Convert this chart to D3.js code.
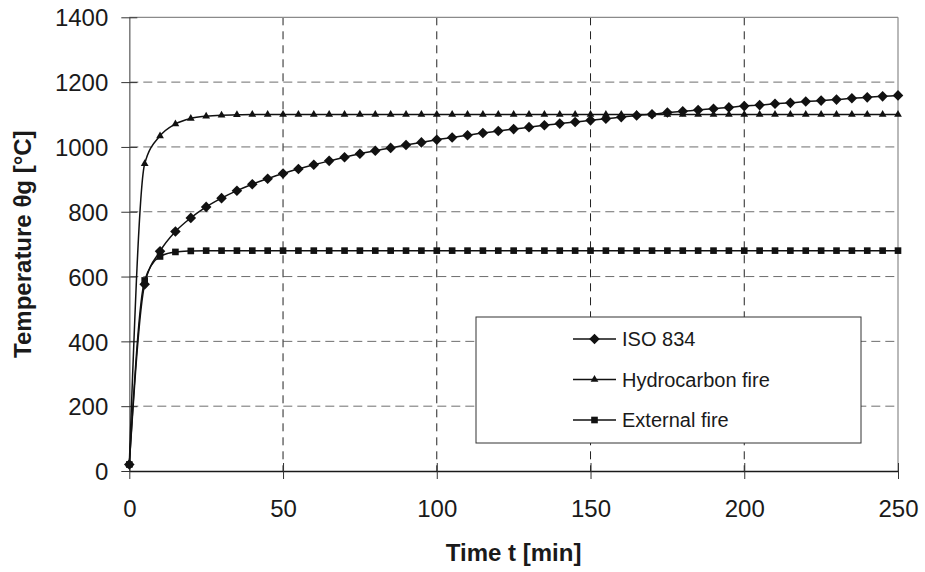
<!DOCTYPE html>
<html>
<head>
<meta charset="utf-8">
<script src="https://cdn.jsdelivr.net/npm/d3@7"></script>
<style>
  html, body { margin: 0; padding: 0; background: #fff; }
  svg text { font-family: "Liberation Sans", Arial, sans-serif; fill: #1a1a1a; }
</style>
</head>
<body>
<div id="fire-chart"></div>
<script>
// time axis samples [min]
const timeMin = [0, 5, 10, 15, 20, 25, 30, 35, 40, 45, 50, 55, 60, 65, 70, 75, 80, 85, 90, 95,
  100, 105, 110, 115, 120, 125, 130, 135, 140, 145, 150, 155, 160, 165, 170, 175, 180, 185, 190, 195,
  200, 205, 210, 215, 220, 225, 230, 235, 240, 245, 250];

// gas temperatures [°C]
const iso834 = [20, 576, 678, 739, 781, 815, 842, 865, 885, 902, 918, 932, 945, 957, 968, 979, 988, 997, 1006, 1014,
  1022, 1029, 1036, 1043, 1049, 1055, 1061, 1067, 1072, 1077, 1082, 1087, 1092, 1097, 1101, 1106, 1110, 1114, 1118, 1122,
  1126, 1129, 1133, 1136, 1140, 1143, 1146, 1150, 1153, 1156, 1159];
const hydrocarbon = [20, 948, 1034, 1071, 1088, 1095, 1098, 1099, 1100, 1100, 1100, 1100, 1100, 1100, 1100, 1100, 1100, 1100, 1100, 1100,
  1100, 1100, 1100, 1100, 1100, 1100, 1100, 1100, 1100, 1100, 1100, 1100, 1100, 1100, 1100, 1100, 1100, 1100, 1100, 1100,
  1100, 1100, 1100, 1100, 1100, 1100, 1100, 1100, 1100, 1100, 1100];
const externalFire = [20, 588, 662, 676, 679, 680, 680, 680, 680, 680, 680, 680, 680, 680, 680, 680, 680, 680, 680, 680,
  680, 680, 680, 680, 680, 680, 680, 680, 680, 680, 680, 680, 680, 680, 680, 680, 680, 680, 680, 680,
  680, 680, 680, 680, 680, 680, 680, 680, 680, 680, 680];

const seriesNames = ["ISO 834", "Hydrocarbon fire", "External fire"];
const xTicks = [0, 50, 100, 150, 200, 250];
const yTicks = [0, 200, 400, 600, 800, 1000, 1200, 1400];

const width = 925, height = 572;
const margin = {top: 17.3, right: 27, bottom: 101, left: 129.3};

const svg = d3.select('#fire-chart').append('svg')
  .attr('width', width)
  .attr('height', height);

const x = d3.scaleLinear().domain([0, 250]).range([margin.left, width - margin.right]);
const y = d3.scaleLinear().domain([0, 1400]).range([height - margin.bottom, margin.top]);

const x0 = x.range()[0], x1 = x.range()[1];
const y0 = y.range()[0], y1 = y.range()[1];

// dashed grid
svg.append('g').selectAll('line')
  .data(yTicks.filter(v => v > 0 && v < 1400))
  .enter().append('line')
  .attr('x1', x0).attr('x2', x1)
  .attr('y1', d => y(d)).attr('y2', d => y(d))
  .attr('stroke', '#6e6e6e').attr('stroke-width', 1)
  .attr('stroke-dasharray', '9,5');
svg.append('g').selectAll('line')
  .data(xTicks.filter(v => v > 0 && v < 250))
  .enter().append('line')
  .attr('x1', d => x(d)).attr('x2', d => x(d))
  .attr('y1', y1).attr('y2', y0)
  .attr('stroke', '#222').attr('stroke-width', 1)
  .attr('stroke-dasharray', '8,6');

// plot frame: top and right grey, left grey axis
svg.append('line').attr('x1', x0).attr('x2', x1).attr('y1', y1).attr('y2', y1)
  .attr('stroke', '#8a8a8a').attr('stroke-width', 1.2);
svg.append('line').attr('x1', x1).attr('x2', x1).attr('y1', y1).attr('y2', y0)
  .attr('stroke', '#8a8a8a').attr('stroke-width', 1.2);

// axes with crossing ticks
const yAxis = d3.axisLeft(y).tickValues(yTicks).tickFormat(d3.format('d'))
  .tickSizeInner(8).tickSizeOuter(0);
const gy = svg.append('g').attr('transform', 'translate(' + x0 + ',0)').call(yAxis);
gy.select('.domain').attr('stroke', '#7a7a7a').attr('stroke-width', 1.5);
gy.selectAll('.tick line').attr('stroke', '#333').attr('x2', -8).attr('x1', 8);
gy.selectAll('.tick text').attr('font-size', 24).attr('dy', '0.36em').attr('x', -21);

const xAxis = d3.axisBottom(x).tickValues(xTicks).tickFormat(d3.format('d'))
  .tickSizeInner(8).tickSizeOuter(0);
const gx = svg.append('g').attr('transform', 'translate(0,' + y0 + ')').call(xAxis);
gx.select('.domain').attr('stroke', '#1a1a1a').attr('stroke-width', 1.5);
gx.selectAll('.tick line').attr('stroke', '#333').attr('y1', -8).attr('y2', 8);
gx.selectAll('.tick text').attr('font-size', 24).attr('dy', null).attr('y', 46);
svg.selectAll('.tick text').attr('fill', '#1a1a1a').attr('font-family', '"Liberation Sans", Arial, sans-serif');

// axis titles
svg.append('text')
  .attr('x', (x0 + x1) / 2).attr('y', 561)
  .attr('text-anchor', 'middle')
  .attr('font-size', 24).attr('font-weight', 'bold')
  .text('Time t [min]');
svg.append('text')
  .attr('transform', 'translate(31,' + ((y0 + y1) / 2) + ') rotate(-90)')
  .attr('text-anchor', 'middle')
  .attr('font-size', 24).attr('font-weight', 'bold')
  .text('Temperature θg [°C]');

// series
const diamond = d3.symbol().type(d3.symbolSquare).size(56);
const triangle = d3.symbol().type(d3.symbolTriangle).size(26);
const square = d3.symbol().type(d3.symbolSquare).size(44);
const series = [
  {name: seriesNames[0], values: iso834, shape: diamond, rot: 45},
  {name: seriesNames[1], values: hydrocarbon, shape: triangle, rot: 0},
  {name: seriesNames[2], values: externalFire, shape: square, rot: 0}
];

const line = d3.line()
  .x(d => x(d.t))
  .y(d => y(d.v))
  .curve(d3.curveMonotoneX);

series.forEach(s => {
  const pts = timeMin.map((t, i) => ({t: t, v: s.values[i]}));
  svg.append('path')
    .datum(pts)
    .attr('d', line)
    .attr('fill', 'none')
    .attr('stroke', '#111')
    .attr('stroke-width', 1.5);
  svg.append('g').selectAll('path')
    .data(pts)
    .enter().append('path')
    .attr('d', s.shape())
    .attr('transform', d => 'translate(' + x(d.t) + ',' + y(d.v) + ') rotate(' + s.rot + ')')
    .attr('fill', '#111');
});

// legend
const legend = svg.append('g');
legend.append('rect')
  .attr('x', 476).attr('y', 317)
  .attr('width', 385).attr('height', 126)
  .attr('fill', '#fff').attr('stroke', '#333').attr('stroke-width', 1);
series.forEach((s, i) => {
  const ly = 339 + i * 40.5;
  legend.append('line')
    .attr('x1', 573).attr('x2', 616).attr('y1', ly).attr('y2', ly)
    .attr('stroke', '#111').attr('stroke-width', 1.5);
  legend.append('path')
    .attr('d', s.shape())
    .attr('transform', 'translate(594.5,' + ly + ') rotate(' + s.rot + ')')
    .attr('fill', '#111');
  legend.append('text')
    .attr('x', 622).attr('y', ly + 7)
    .attr('font-size', 20)
    .text(s.name);
});
</script>
</body>
</html>
